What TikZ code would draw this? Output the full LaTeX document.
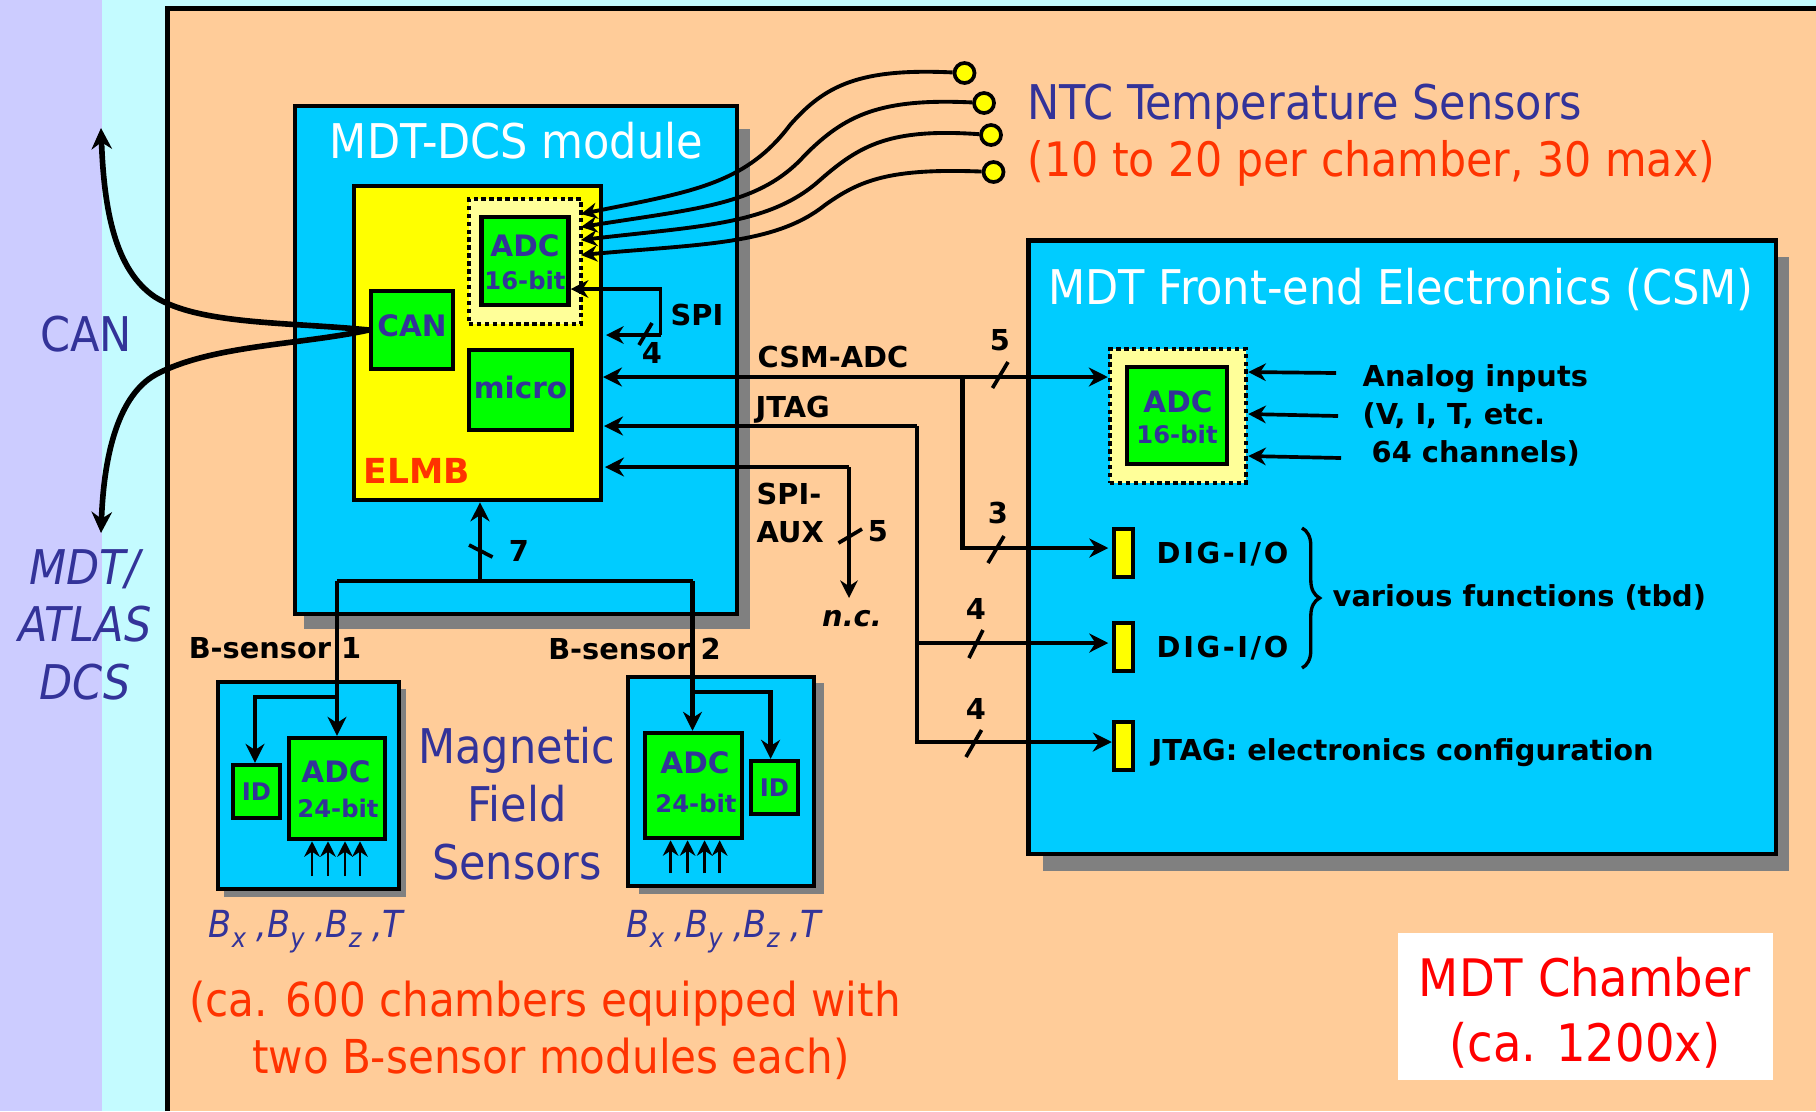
\documentclass[tikz,border=0pt]{standalone}
\usepackage{fontspec}
\setmainfont{DejaVu Sans}
\newfontfamily\bigfont{DejaVu Sans Condensed}
\usetikzlibrary{arrows.meta,decorations.pathreplacing}

\definecolor{band}{HTML}{CCCCFF}
\definecolor{lightband}{HTML}{C4FBFF}
\definecolor{chamber}{HTML}{FFCC99}
\definecolor{module}{HTML}{00CCFF}
\definecolor{chipgreen}{HTML}{00FF00}
\definecolor{chipyellow}{HTML}{FFFF00}
\definecolor{paleyellow}{HTML}{FFFF99}
\definecolor{inkblue}{HTML}{333399}
\definecolor{inkred}{HTML}{FF3300}
\definecolor{purered}{HTML}{FF0000}

\newcommand{\bigsize}{\bigfont\fontsize{13.6}{15}\selectfont}
\newcommand{\notesize}{\bigfont\fontsize{13.3}{15}\selectfont}
\newcommand{\chambersize}{\bigfont\fontsize{14.7}{16}\selectfont}
\newcommand{\fieldsize}{\bigfont\itshape\fontsize{10.6}{12}\selectfont}
\newcommand{\labelsize}{\fontsize{8.2}{10}\selectfont}
\newcommand{\chipsize}{\fontsize{8.4}{10}\selectfont}
\newcommand{\smallchip}{\fontsize{6.9}{8}\selectfont}
\newcommand{\fieldsub}[1]{\raisebox{-3pt}{\fontsize{7.6}{8}\selectfont #1}}

\tikzset{
    shadowbox/.style={fill=black!50},
    modulebox/.style={rectangle, draw, line width=1.25pt, fill=module, inner sep=0pt},
    chip/.style={rectangle, draw, line width=1.25pt, fill=chipgreen, text=inkblue, inner sep=0pt, align=center, font=\bfseries\chipsize},
    dotbox/.style={rectangle, draw, line width=1.25pt, densely dotted, fill=paleyellow, inner sep=0pt},
    port/.style={rectangle, draw, line width=1.25pt, fill=chipyellow, inner sep=0pt, minimum width=0.19cm, minimum height=0.48cm},
    sensor/.style={circle, draw, line width=1.05pt, fill=chipyellow, inner sep=0pt, minimum size=0.2cm},
    arrow/.style={line width=1.4pt,->,>={Stealth[length=5.4pt,width=5.4pt]}},
    midarrow/.style={line width=1.05pt,->,>={Stealth[length=5pt,width=5pt]}},
    thinarrow/.style={line width=0.8pt,->,>={Stealth[length=4.4pt,width=4.4pt]}},
    wire/.style={line width=1.1pt,->,>={Stealth[length=4.6pt,width=4.6pt]}},
    canline/.style={line width=1.6pt,->,>={Stealth[length=6pt,width=5.8pt]}},
    slash/.style={line width=1.05pt},
    lbl/.style={inner sep=0pt, font=\bfseries\labelsize},
    diglbl/.style={lbl, font=\bfseries\labelsize\addfontfeature{LetterSpace=9}},
    chiptext/.style={inner sep=0pt, text=inkblue, font=\bfseries\chipsize},
    chipnote/.style={inner sep=0pt, text=inkblue, font=\bfseries\smallchip},
    bigblue/.style={inner sep=0pt, text=inkblue, font=\bigsize},
    bigred/.style={inner sep=0pt, text=inkred, font=\notesize},
    bigwhite/.style={inner sep=0pt, text=white, font=\bigsize},
    fieldtext/.style={inner sep=0pt, text=inkblue, font=\fieldsize},
}

\begin{document}
\begin{tikzpicture}[x=0.01cm,y=-0.01cm]
    \useasboundingbox (0,0) rectangle (1816,1111);

    % background bands
    \fill[band] (0,0) rectangle (102,1111);
    \fill[lightband] (102,0) rectangle (1816,1111);
    \fill[chamber] (167,8) rectangle (1816,1111);
    \draw[line width=1.4pt] (167.5,1111) -- (167.5,8.5) -- (1816,8.5);

    % shadows
    \fill[shadowbox] (304,129) rectangle (750,629);
    \fill[shadowbox] (1043,257) rectangle (1789,871);
    \fill[shadowbox] (224,689) rectangle (406,897);
    \fill[shadowbox] (639,683) rectangle (824,894);

    % boxes
    \node (dcs) at (516,360) [modulebox, minimum width=4.42cm, minimum height=5.08cm] {};
    \node (csm) at (1402,547) [modulebox, minimum width=7.47cm, minimum height=6.13cm] {};
    \node (sensorA) at (308.5,785.5) [modulebox, minimum width=1.81cm, minimum height=2.07cm] {};
    \node (sensorB) at (721,781.5) [modulebox, minimum width=1.86cm, minimum height=2.09cm] {};
    \node (elmb) at (477.5,343) [rectangle, draw, line width=1.25pt, fill=chipyellow, minimum width=2.47cm, minimum height=3.14cm, inner sep=0pt] {};

    \node (dotA) at (525,261.5) [dotbox, minimum width=1.12cm, minimum height=1.25cm] {};
    \node (dotB) at (1178,416) [dotbox, minimum width=1.36cm, minimum height=1.34cm] {};

    \node (adcA) at (525,261) [chip, minimum width=0.87cm, minimum height=0.88cm] {};
    \node at (525,246) [chiptext] {ADC};
    \node at (525,280) [chipnote] {16-bit};
    \node (can) at (412,330) [chip, minimum width=0.82cm, minimum height=0.78cm] {};
    \node at (412,326) [chiptext] {CAN};
    \node (micro) at (520.5,390) [chip, minimum width=1.03cm, minimum height=0.8cm] {};
    \node at (520.5,387) [chiptext] {micro};
    \node (elmblabel) at (417,471) [inner sep=0pt, text=inkred, font=\bfseries\fontsize{9.8}{12}\selectfont] {ELMB};

    \node (adcB) at (1177,415.5) [chip, minimum width=1.0cm, minimum height=0.97cm] {};
    \node at (1178,402) [chiptext] {ADC};
    \node at (1177,434) [chipnote] {16-bit};

    \node (adcC) at (337,788.5) [chip, minimum width=0.96cm, minimum height=1.01cm] {};
    \node at (336,772) [chiptext] {ADC};
    \node at (338,808) [chipnote] {24-bit};
    \node (idA) at (256.5,791.5) [chip, minimum width=0.47cm, minimum height=0.53cm, font=\bfseries\smallchip] {ID};
    \node (adcD) at (693.5,785.5) [chip, minimum width=0.965cm, minimum height=1.05cm] {};
    \node at (695,763) [chiptext] {ADC};
    \node at (696,803) [chipnote] {24-bit};
    \node (idB) at (774.5,787.5) [chip, minimum width=0.47cm, minimum height=0.53cm, font=\bfseries\smallchip] {ID};

    \node (portA) at (1123.5,553) [port] {};
    \node (portB) at (1123.5,647) [port] {};
    \node (portC) at (1123.5,746) [port] {};

    % temperature sensors
    \node (ntcA) at (964.5,73) [sensor] {};
    \node (ntcB) at (984,103) [sensor] {};
    \node (ntcC) at (991,135) [sensor] {};
    \node (ntcD) at (993.5,172) [sensor] {};
    \coordinate (inA) at (581,214);
    \coordinate (inB) at (581,227);
    \coordinate (inC) at (581,240);
    \coordinate (inD) at (581,255);

    \draw[wire] (ntcA) .. controls (860,68) and (825,85) .. (790,125) .. controls (745,185) and (690,192) .. (inA);
    \draw[wire] (ntcB) .. controls (880,98) and (845,115) .. (805,155) .. controls (760,205) and (700,208) .. (inB);
    \draw[wire] (ntcC) .. controls (890,128) and (860,145) .. (820,180) .. controls (770,225) and (700,226) .. (inC);
    \draw[wire] (ntcD) .. controls (890,168) and (860,180) .. (825,205) .. controls (775,245) and (700,244) .. (inD);

    % CAN bus
    \coordinate (canUp) at (101,128);
    \coordinate (canDown) at (101,533);
    \draw[canline] (can.west) .. controls (290,322) and (200,325) .. (155,297) .. controls (115,270) and (104,210) .. (canUp);
    \draw[canline] (can.west) .. controls (300,345) and (210,345) .. (155,375) .. controls (120,395) and (104,450) .. (canDown);

    % SPI
    \coordinate (spiA) at (660.5,289);
    \coordinate (spiB) at (660.5,335);
    \coordinate (spiC) at (606,335);
    \draw[midarrow] (spiB) -- (spiA) -- (adcA.east |- spiA);
    \draw[midarrow] (spiB) -- (spiC);

    % lines into the ELMB
    \coordinate (csmEnd) at (603,377);
    \coordinate (csmFork) at (962.5,377);
    \coordinate (digA) at (962.5,548);
    \coordinate (jtagEnd) at (604,426);
    \coordinate (jtagTop) at (917,426);
    \coordinate (jtagFork) at (917,643);
    \coordinate (jtagLow) at (917,742);
    \coordinate (auxEnd) at (605,467);
    \coordinate (auxTop) at (849,467);
    \coordinate (nc) at (849,598);

    \draw[arrow] (csmFork) -- (csmEnd);
    \draw[arrow] (csmFork) -- (dotB.west |- csmFork);
    \draw[arrow,shorten >=1pt] (csmFork) -- (digA) -- (portA.west |- digA);
    \draw[arrow] (jtagTop) -- (jtagEnd);
    \draw[arrow] (jtagTop) -- (jtagLow) -- (portC.west |- jtagLow);
    \draw[arrow,shorten >=1pt] (jtagFork) -- (portB.west |- jtagFork);
    \draw[arrow] (auxTop) -- (auxEnd);
    \draw[midarrow] (auxTop) -- (nc);

    % B-sensor bus
    \coordinate (busTop) at (480,581);
    \coordinate (busA) at (337,581);
    \coordinate (busB) at (692.5,581);
    \coordinate (idForkA) at (337,697);
    \coordinate (idCornerA) at (255,697);
    \coordinate (idForkB) at (692.5,692);
    \coordinate (idCornerB) at (770.6,692);

    \draw[arrow] (busTop) -- (elmb.south -| busTop);
    \draw[line width=1.4pt] (busA) -- (busB);
    \draw[arrow] (busA) -- (adcC.north -| busA);
    \draw[arrow] (busB) -- (adcD.north -| busB);
    \draw[arrow] (idForkA) -- (idCornerA) -- (idA.north -| idCornerA);
    \draw[arrow] (idForkB) -- (idCornerB) -- (idB.north -| idCornerB);

    % analog inputs
    \coordinate (anaA) at (1336,373);
    \coordinate (anaB) at (1338,416);
    \coordinate (anaC) at (1341,458);
    \draw[midarrow] (anaA) -- (dotB.east |- 0,372);
    \draw[midarrow] (anaB) -- (dotB.east |- 0,414);
    \draw[midarrow] (anaC) -- (dotB.east |- 0,456);

    % field inputs
    \foreach \xa in {312,328,345,360}
        \draw[thinarrow] (\xa,876) -- (adcC.south -| \xa,0);
    \foreach \xa in {670.6,687.6,704.6,719.7}
        \draw[thinarrow] (\xa,873) -- (adcD.south -| \xa,0);

    % slashes
    \draw[slash] (639,345) -- (652,323);
    \draw[slash] (992.5,388) -- (1008,362);
    \draw[slash] (988,563) -- (1004,536);
    \draw[slash] (969,658) -- (983,630);
    \draw[slash] (966,757) -- (981.5,730);
    \draw[slash] (838.5,543) -- (862,529);
    \draw[slash] (469,545) -- (492.5,557);

    % large texts
    \node (dcstitle) at (516.5,158) [bigwhite, anchor=base] {MDT-DCS module};
    \node (csmtitle) at (1401,304) [bigwhite, anchor=base] {MDT Front-end Electronics (CSM)};
    \node (ntctitle) at (1027,119) [bigblue, anchor=base west] {NTC Temperature Sensors};
    \node (ntcnote) at (1027,176) [bigred, font=\bigfont\fontsize{13.5}{15}\selectfont, anchor=base west] {(10 to 20 per chamber, 30 max)};
    \node (canlabel) at (86,351) [bigblue, anchor=base] {CAN};
    \node (atlasA) at (85,584) [bigblue, anchor=base, font=\bigsize\itshape] {MDT/};
    \node (atlasB) at (85,641) [bigblue, anchor=base, font=\bigsize\itshape] {ATLAS};
    \node (atlasC) at (85,699) [bigblue, anchor=base, font=\bigsize\itshape] {DCS};
    \node (magneticA) at (517,763) [bigblue, anchor=base] {Magnetic};
    \node (magneticB) at (517,821) [bigblue, anchor=base] {Field};
    \node (magneticC) at (517,879) [bigblue, anchor=base] {Sensors};
    \node (fieldA) at (306,937) [fieldtext, anchor=base] {B\fieldsub{x} ,B\fieldsub{y} ,B\fieldsub{z} ,T};
    \node (fieldB) at (724,937) [fieldtext, anchor=base] {B\fieldsub{x} ,B\fieldsub{y} ,B\fieldsub{z} ,T};
    \node (equippedA) at (545,1016) [bigred, anchor=base] {(ca. 600 chambers equipped with};
    \node (equippedB) at (551,1073) [bigred, anchor=base] {two B-sensor modules each)};
    \node (chamberbox) at (1585.5,1006.5) [rectangle, fill=white, minimum width=3.75cm, minimum height=1.47cm, inner sep=0pt] {};
    \node (chamberA) at (1585,996) [inner sep=0pt, text=purered, font=\chambersize, anchor=base] {MDT Chamber};
    \node (chamberB) at (1585,1061) [inner sep=0pt, text=purered, font=\chambersize, anchor=base] {(ca. 1200x)};

    % small texts
    \node (spilabel) at (697,315) [lbl] {SPI};
    \node (spinum) at (652,353) [lbl] {4};
    \node (csmlabel) at (757,367) [lbl, anchor=base west] {CSM-ADC};
    \node (jtaglabel) at (755,417) [lbl, anchor=base west] {JTAG};
    \node (auxlabelA) at (756,504) [lbl, anchor=base west] {SPI-};
    \node (auxlabelB) at (756,542) [lbl, anchor=base west] {AUX};
    \node (auxnum) at (878,531) [lbl] {5};
    \node (nclabel) at (852,619) [lbl, font=\bfseries\itshape\labelsize] {n.c.};
    \node (csmnum) at (1000,340) [lbl] {5};
    \node (dignum) at (998,513) [lbl] {3};
    \node (diganum) at (976,609) [lbl] {4};
    \node (jtagnum) at (976,709) [lbl] {4};
    \node (busnum) at (519,551) [lbl] {7};
    \node (bsenseA) at (275,648) [lbl] {B-sensor 1};
    \node (bsenseB) at (634.5,649) [lbl] {B-sensor 2};
    \node (anatext) at (1362,386) [lbl, anchor=base west] {Analog inputs};
    \node (anatextB) at (1362,424) [lbl, anchor=base west] {(V, I, T, etc.};
    \node (anatextC) at (1371,462) [lbl, anchor=base west] {64 channels)};
    \node (diglabelA) at (1156,563) [diglbl, anchor=base west] {DIG-I/O};
    \node (diglabelB) at (1156,657) [diglbl, anchor=base west] {DIG-I/O};
    \node (jtagconf) at (1151,760) [lbl, anchor=base west] {JTAG: electronics configuration};
    \node (various) at (1332,606) [lbl, anchor=base west] {various functions (tbd)};

    % brace
    \coordinate (braceTop) at (1302,528);
    \coordinate (braceEnd) at (1302,668);
    \draw[line width=0.95pt, decorate, decoration={brace,amplitude=5pt}] (braceTop) -- (braceEnd);
\end{tikzpicture}
\end{document}
